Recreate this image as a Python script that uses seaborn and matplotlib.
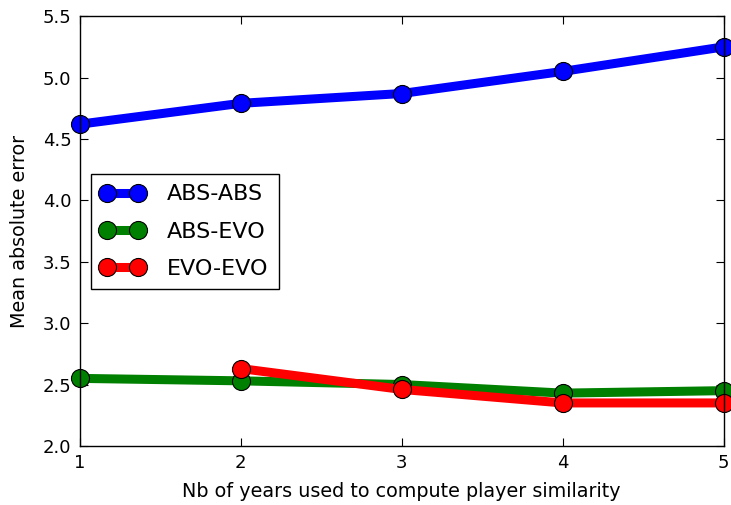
import numpy as np
import pandas as pd
import matplotlib
matplotlib.use('agg')
import matplotlib.pyplot as plt
import seaborn as sns

# values
years = [1, 2, 3, 4, 5]
abs_abs = [4.62, 4.79, 4.87, 5.05, 5.25]
abs_evo = [2.55, 2.53, 2.50, 2.43, 2.45]
evo_evo_years = [2, 3, 4, 5]
evo_evo = [2.63, 2.46, 2.35, 2.35]

series = ['ABS-ABS', 'ABS-EVO', 'EVO-EVO']
colors = ['#0000ff', '#008000', '#ff0000']

df = pd.concat([
    pd.DataFrame({'years': years, 'mae': abs_abs, 'model': 'ABS-ABS'}),
    pd.DataFrame({'years': years, 'mae': abs_evo, 'model': 'ABS-EVO'}),
    pd.DataFrame({'years': evo_evo_years, 'mae': evo_evo, 'model': 'EVO-EVO'}),
])

sns.set_style('ticks')
plt.rcParams['font.family'] = ['DejaVu Sans']
plt.rcParams['xtick.direction'] = 'in'
plt.rcParams['ytick.direction'] = 'in'
plt.rcParams['text.color'] = 'black'
plt.rcParams['axes.labelcolor'] = 'black'
plt.rcParams['xtick.color'] = 'black'
plt.rcParams['ytick.color'] = 'black'

fig = plt.figure(figsize=(7.31, 5.05), dpi=100)
ax = fig.add_axes([0.109, 0.117, 0.881, 0.851])

sns.lineplot(data=df, x='years', y='mae', hue='model', hue_order=series,
             palette=colors, marker='o', markersize=13, linewidth=6.5,
             markeredgecolor='black', markeredgewidth=0.8, legend=False,
             ax=ax, clip_on=False)

ax.set_xlim(1, 5)
ax.set_ylim(2.0, 5.5)
ax.set_xticks(years)
ax.set_yticks(np.arange(2.0, 5.51, 0.5))
ax.set_yticklabels([f'{v:.1f}' for v in np.arange(2.0, 5.51, 0.5)])
ax.tick_params(axis='both', which='both', top=True, right=True, length=6,
               width=0.8, labelsize=13, pad=6)
for s in ax.spines.values():
    s.set_color('black')
    s.set_linewidth(1.0)

ax.set_xlabel('Nb of years used to compute player similarity', fontsize=13.8,
              labelpad=7)
ax.set_ylabel('Mean absolute error', fontsize=13.8, labelpad=10)

leg = ax.legend(ax.lines[:3], series, loc='lower left',
                bbox_to_anchor=(0.017, 0.365), borderaxespad=0, numpoints=2,
                fontsize=16, fancybox=False, framealpha=1, edgecolor='black',
                handlelength=2.0, handletextpad=1.0, borderpad=0.45,
                labelspacing=0.78)
leg.get_frame().set_linewidth(1.0)

fig.savefig('out.png', dpi=100)
